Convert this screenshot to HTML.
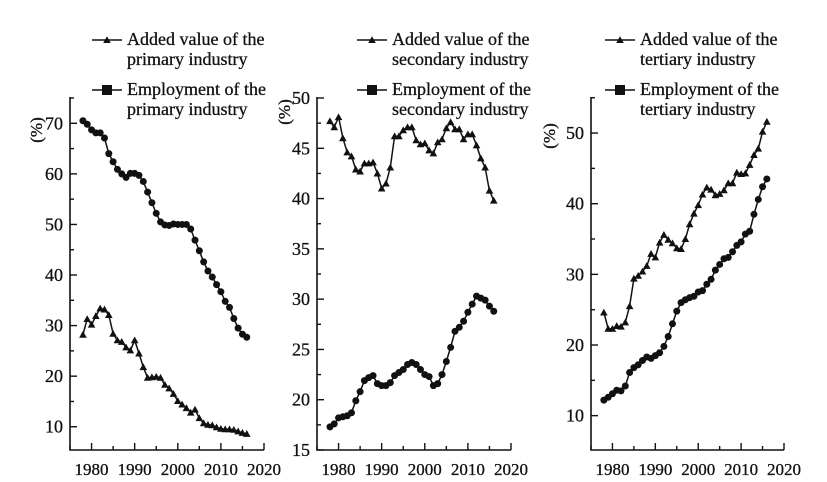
<!DOCTYPE html>
<html><head><meta charset="utf-8"><style>
body{margin:0;background:#fff;}
svg{display:block;font-family:"Liberation Serif",serif;}
svg text{stroke:#111;stroke-width:0.3;}
</style></head><body>
<svg id="c" width="827" height="482" viewBox="0 0 827 482"></svg>
<script>
const years=[];for(let y=1978;y<=2016;y++)years.push(y);
const xTicks=[1980,1990,2000,2010,2020];
const primaryAdded=[28.2,31.3,30.2,31.9,33.4,33.2,32.1,28.4,27.1,26.8,25.7,25.1,27.1,24.5,21.8,19.7,19.8,19.9,19.7,18.3,17.6,16.5,15.1,14.4,13.7,12.8,13.4,11.7,10.7,10.4,10.3,9.9,9.6,9.5,9.5,9.4,9.1,8.8,8.6];
const primaryEmp=[70.5,69.8,68.7,68.1,68.1,67.1,64.0,62.4,60.9,60.0,59.3,60.1,60.1,59.7,58.5,56.4,54.3,52.2,50.5,49.9,49.8,50.1,50.0,50.0,50.0,49.1,46.9,44.8,42.6,40.8,39.6,38.1,36.7,34.8,33.6,31.4,29.5,28.3,27.7];
const secondaryAdded=[47.7,47.1,48.1,46.0,44.6,44.2,42.9,42.7,43.5,43.5,43.6,42.5,41.0,41.5,43.1,46.2,46.2,46.8,47.1,47.1,45.8,45.4,45.5,44.8,44.5,45.6,45.9,47.0,47.6,46.9,46.9,45.9,46.4,46.4,45.3,44.0,43.1,40.8,39.8];
const secondaryEmp=[17.3,17.6,18.2,18.3,18.4,18.7,19.9,20.8,21.9,22.2,22.4,21.6,21.4,21.4,21.7,22.4,22.7,23.0,23.5,23.7,23.5,23.0,22.5,22.3,21.4,21.6,22.5,23.8,25.2,26.8,27.2,27.8,28.7,29.5,30.3,30.1,29.9,29.3,28.8];
const tertiaryAdded=[24.6,22.3,22.3,22.7,22.6,23.2,25.5,29.4,29.8,30.4,31.2,32.9,32.4,34.5,35.6,34.9,34.4,33.7,33.6,35.0,37.1,38.6,39.8,41.3,42.3,42.0,41.2,41.4,41.9,42.9,42.9,44.4,44.2,44.3,45.5,46.9,47.8,50.2,51.6];
const tertiaryEmp=[12.2,12.6,13.1,13.6,13.5,14.2,16.1,16.8,17.2,17.8,18.3,18.1,18.5,18.9,19.8,21.2,23.0,24.8,26.0,26.4,26.7,26.9,27.5,27.7,28.6,29.3,30.6,31.4,32.2,32.4,33.2,34.1,34.6,35.7,36.1,38.5,40.6,42.4,43.5];
const yTicks1=[10,20,30,40,50,60,70];
const yTicks2=[15,20,25,30,35,40,45,50];
const yTicks3=[10,20,30,40,50];
const svg=document.getElementById('c');
const NS='http://www.w3.org/2000/svg';
function el(t,a,p){const e=document.createElementNS(NS,t);for(const k in a)e.setAttribute(k,a[k]);(p||svg).appendChild(e);return e;}
const panels=[
 {id:'primary',x0:70,x1:264,yTop:97,yBot:450,vMin:5.4,vMax:75.2,ticks:yTicks1,minor:5,added:primaryAdded,emp:primaryEmp,name:'primary',legX:92,pctX:42,pctY:130},
 {id:'secondary',x0:317,x1:511,yTop:97,yBot:450,vMin:15,vMax:50.1,ticks:yTicks2,minor:2.5,added:secondaryAdded,emp:secondaryEmp,name:'secondary',legX:357,pctX:290,pctY:112},
 {id:'tertiary',x0:591,x1:784,yTop:97,yBot:450,vMin:5.14,vMax:55.1,ticks:yTicks3,minor:5,added:tertiaryAdded,emp:tertiaryEmp,name:'tertiary',legX:605,pctX:555,pctY:136}
];
function tri(g,x,y,nm){const s=3.8;const p=el('polygon',{points:`${x},${y-s} ${x-s},${y+s*0.8} ${x+s},${y+s*0.8}`,fill:'#111'},g);}
function sq(g,x,y,nm){const p=el('circle',{cx:x,cy:y,r:3.5,fill:'#111'},g);}
panels.forEach(P=>{
 const g=el('g',{});
 
 
 const X=v=>P.x0+(v-1975)/45*(P.x1-P.x0);
 const Y=v=>P.yBot-(v-P.vMin)/(P.vMax-P.vMin)*(P.yBot-P.yTop);
 const ax=el('path',{d:`M${P.x0},${P.yTop}V${P.yBot}H${P.x1}`,fill:'none',stroke:'#111','stroke-width':1.6},g);
 
 
 for(let yr=1975;yr<=2020;yr+=5){const maj=yr%10===0;el('line',{x1:X(yr),x2:X(yr),y1:P.yBot,y2:P.yBot-(maj?7:4),stroke:'#111','stroke-width':1.4},g);}
 xTicks.forEach(t=>{const tx=el('text',{x:X(t),y:P.yBot+25,'text-anchor':'middle','font-size':17,fill:'#111'},g);tx.textContent=t;});
 for(let v=Math.ceil(P.vMin/P.minor)*P.minor;v<=P.vMax+0.01;v+=P.minor){const maj=P.ticks.includes(Math.round(v*10)/10);el('line',{x1:P.x0,x2:P.x0+(maj?7:4),y1:Y(v),y2:Y(v),stroke:'#111','stroke-width':1.4},g);}
 P.ticks.forEach(t=>{const tx=el('text',{x:P.x0-7,y:Y(t)+6,'text-anchor':'end','font-size':18,fill:'#111'},g);tx.textContent=t;});
 const pc=el('text',{x:P.pctX,y:P.pctY,'text-anchor':'middle','font-size':17,fill:'#111',transform:`rotate(-90 ${P.pctX} ${P.pctY})`},g);pc.textContent='(%)';
 
 [[P.added,tri,'added-value'],[P.emp,sq,'employment']].forEach(([arr,mk,nm])=>{
  const d=arr.map((v,i)=>(i?'L':'M')+X(years[i]).toFixed(1)+','+Y(v).toFixed(1)).join('');
  const ln=el('path',{d,fill:'none',stroke:'#111','stroke-width':1.5},g);
  
  
  arr.forEach((v,i)=>mk(g,X(years[i]),Y(v),nm+'-point'));
 });
 const lg=el('g',{},g);
 
 
 [[40,tri,'Added value of the'],[90,sq,'Employment of the']].forEach(([ly,mk,t1])=>{
  el('line',{x1:P.legX,x2:P.legX+30,y1:ly,y2:ly,stroke:'#111','stroke-width':1.5},lg);
  if(mk===sq){const r=el('rect',{x:P.legX+10,y:ly-5,width:10,height:10,fill:'#111'},lg);}
  else mk(lg,P.legX+15,ly,'legend-marker');
  const a=el('text',{x:P.legX+35,y:ly+5,'font-size':18,fill:'#111'},lg);a.textContent=t1;
  
  const b=el('text',{x:P.legX+35,y:ly+25,'font-size':18,fill:'#111'},lg);b.textContent=P.name+' industry';
  
 });
});
</script>
</body></html>
